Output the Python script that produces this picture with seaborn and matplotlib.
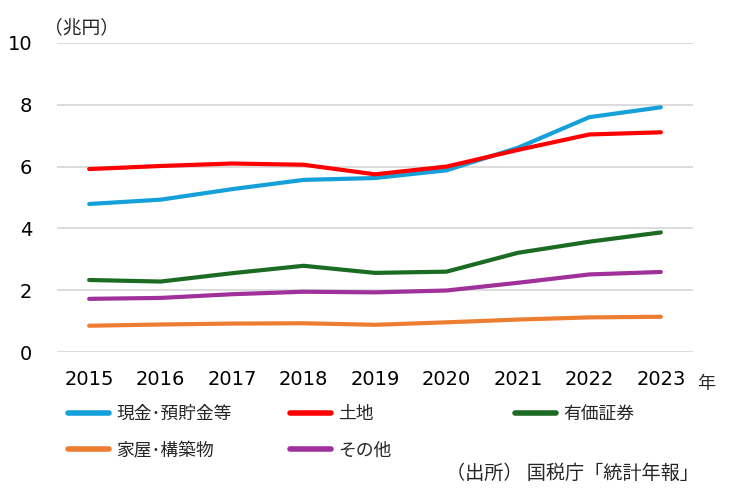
import numpy as np
import pandas as pd
import matplotlib
matplotlib.use("Agg")
import matplotlib.pyplot as plt
import seaborn as sns

# Data (兆円)
years = [2015, 2016, 2017, 2018, 2019, 2020, 2021, 2022, 2023]
cash = [4.79, 4.93, 5.27, 5.57, 5.63, 5.88, 6.61, 7.60, 7.92]
land = [5.92, 6.02, 6.10, 6.06, 5.75, 6.00, 6.54, 7.04, 7.11]
securities = [2.33, 2.28, 2.55, 2.79, 2.56, 2.60, 3.21, 3.57, 3.87]
house = [0.85, 0.89, 0.92, 0.93, 0.88, 0.96, 1.05, 1.12, 1.14]
other = [1.72, 1.75, 1.87, 1.95, 1.93, 1.99, 2.24, 2.51, 2.59]

names = ["現金･預貯金等", "土地", "有価証券", "家屋･構築物", "その他"]
colors = ["#16A0DA", "#FF0000", "#1B6B23", "#ED7D31", "#A0309A"]

df = pd.DataFrame({"year": years, names[0]: cash, names[1]: land,
                   names[2]: securities, names[3]: house, names[4]: other})
df["x"] = range(len(years))
long = df.melt(id_vars=["year", "x"], var_name="item", value_name="value")

sns.set_style("white")
plt.rcParams['font.family'] = ['Noto Sans CJK JP', 'DejaVu Sans']

fig = plt.figure(figsize=(7.5, 4.93), dpi=100)
ax = fig.add_axes([57 / 750, 1 - 352 / 493, (693 - 57) / 750, (352 - 43) / 493])

sns.lineplot(data=long, x="x", y="value", hue="item", hue_order=names,
             palette=colors, linewidth=3, ax=ax, legend=False)
for ln in ax.get_lines():
    ln.set_solid_capstyle("round")
    ln.set_solid_joinstyle("round")

ax.set_xlim(-0.45, len(years) - 1 + 0.45)
ax.set_ylim(0, 10)
ax.set_yticks([0, 2, 4, 6, 8, 10])
ax.set_xticks(range(len(years)))
ax.set_xticklabels([str(y) for y in years])
ax.yaxis.grid(True, color="#d9d9d9", linewidth=1.3)
ax.set_axisbelow(True)
for s in ax.spines.values():
    s.set_visible(False)
ax.tick_params(axis="both", length=0, labelsize=14, colors="black")
ax.tick_params(axis="x", pad=13)
ax.tick_params(axis="y", pad=18)
ax.set_xlabel("")
ax.set_ylabel("")
for lab in ax.get_xticklabels() + ax.get_yticklabels():
    lab.set_family("DejaVu Sans")

fig.text(44 / 750, 1 - 28 / 493, "（兆円）", fontsize=13.5, ha="left", va="center")
fig.text(697 / 750, 1 - 384 / 493, "年", fontsize=13, ha="left", va="center")
fig.text(699 / 750, 1 - 473 / 493, "（出所） 国税庁「統計年報」", fontsize=13.8,
         ha="right", va="center")

groups = [([0, 3], 68), ([1, 4], 290), ([2], 515)]
for idx, xpix in groups:
    leg = fig.legend([plt.Line2D([], [], color=colors[i], linewidth=4,
                                 solid_capstyle="round") for i in idx],
                     [names[i] for i in idx],
                     loc="upper left", bbox_to_anchor=(xpix / 750, 1 - 405 / 493),
                     frameon=False, fontsize=12.8, handlelength=2.3,
                     handletextpad=0.4, labelspacing=1.05, borderaxespad=0,
                     borderpad=0)

fig.savefig("out.png", dpi=100)
